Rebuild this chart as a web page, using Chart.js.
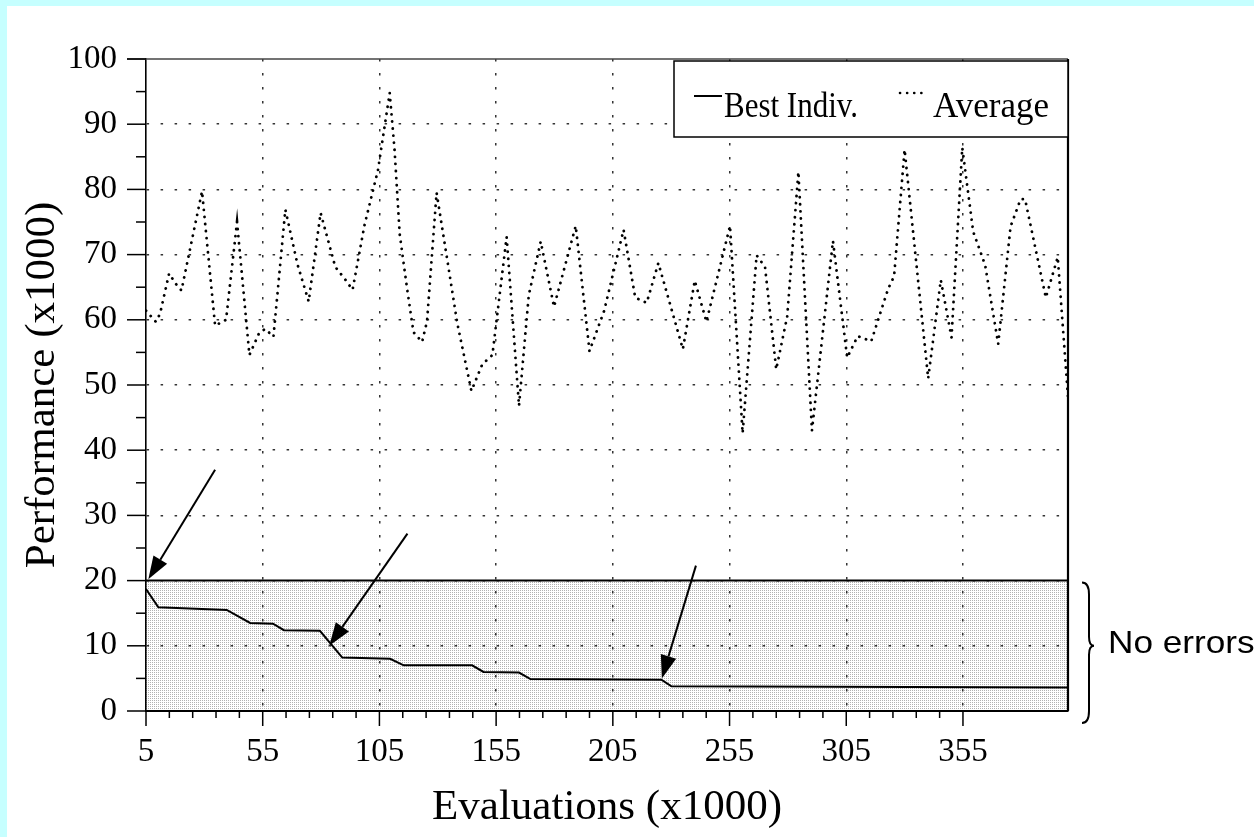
<!DOCTYPE html>
<html>
<head>
<meta charset="utf-8">
<title>Best individual and average performance</title>
<script src="https://cdn.jsdelivr.net/npm/chart.js@4.4.1/dist/chart.umd.min.js"></script>
<style>
  html, body { margin: 0; padding: 0; }
  body { width: 1254px; height: 837px; background: #c6ffff; position: relative; overflow: hidden; }
  #paper { position: absolute; left: 7px; top: 6px; right: 0; bottom: 0; background: #fff; }
  #grafico { position: absolute; left: 0; top: 0; }
</style>
</head>
<body>
<div id="paper"></div>
<canvas id="grafico" width="1254" height="837"></canvas>
<script>
// --- DATOS ---
const avgX = [5, 9.2, 11, 14.9, 17.8, 20.2, 29, 34.6, 39.3, 44, 49.3, 53.5, 56.1, 59.6, 64.7, 69.9, 74.7, 79.8,
  86.1, 89.9, 93.5, 98.6, 104.4, 109.4, 111.5, 113.7, 117, 119.6, 123.3, 125.4, 129.5, 138.4, 144.4, 149.1,
  153.4, 159.5, 164.8, 169, 174.1, 179.8, 189.1, 195, 201.3, 209.6, 214.6, 219.5, 224.5, 235, 240.1, 245.1,
  255.2, 260.6, 266.6, 270.2, 275, 279.7, 284.5, 290.3, 299.3, 305.4, 309.9, 315.7, 322.9, 325.5, 330,
  340.1, 345.5, 350.1, 354.7, 359.4, 364.5, 370.1, 375.4, 379.7, 381.6, 390.5, 395.6, 400];
const avgY = [61.4, 59.7, 60.9, 67.1, 65.5, 64.5, 79.7, 59.1, 60, 75, 54.6, 58, 58.6, 57.4, 76.9, 68.5, 62.8, 76.4,
  68.1, 66.4, 64.6, 74.5, 83, 94.8, 86, 73.1, 64.4, 58.1, 56.6, 59.8, 79.5, 59.4, 49.1, 53.2,
  54.6, 72.7, 46.8, 63.8, 72, 62, 74.4, 55.2, 61.4, 73.8, 63.4, 62.6, 68.7, 55.5, 66, 59.7,
  74.4, 42.6, 69.9, 68.1, 52.4, 60.5, 82.7, 43, 72.1, 54.2, 57.5, 56.7, 64.7, 66.7, 86.1,
  51, 66.1, 57.3, 86.4, 73.5, 68.4, 56.3, 74.3, 78.5, 78.5, 63.4, 69.6, 48.1];

const bestX = [5, 10.3, 39.6, 49.6, 59.4, 64.1, 79.5, 89.1, 109.6, 115.4, 144.7, 149.6, 164.8, 169.7, 225.8, 230.1, 400];
const bestY = [18.7, 15.9, 15.5, 13.5, 13.4, 12.4, 12.3, 8.2, 8.0, 7.0, 7.0, 6.0, 5.9, 4.9, 4.8, 3.8, 3.6];

const bandX = [5, 400];
const bandY = [20, 20];

const xLabels = [5, 55, 105, 155, 205, 255, 305, 355];
const yLabels = [0, 10, 20, 30, 40, 50, 60, 70, 80, 90, 100];

const seriesNames = ["Best Indiv.", "Average"];
const bandText = "No errors";
const xTitle = "Evaluations (x1000)";
const yTitle = "Performance (x1000)";

// flechas, en unidades de datos
const arrowTail = [[34.6, 37], [117, 27.2], [240.6, 22.3]];
const arrowTip = [[6, 20.2], [83.5, 10], [226, 5]];

const SERIF = '"Liberation Serif", "Times New Roman", serif';
const SANS = '"Liberation Sans", Arial, sans-serif';

// --- HELPERS ---
const toPts = (xs, ys) => xs.map((v, i) => ({ x: v, y: ys[i] }));

const xTickVals = [];
for (let v = 5; v <= 355; v += 10) xTickVals.push(v);
const yTickVals = [];
for (let v = 0; v <= 100; v += 5) yTickVals.push(v);

const canvas = document.getElementById("grafico");

function stipple() {
  const c = document.createElement("canvas");
  c.width = 2; c.height = 2;
  const g = c.getContext("2d");
  g.fillStyle = "rgba(0,0,0,0.3)";
  g.fillRect(0, 0, 1, 1);
  return canvas.getContext("2d").createPattern(c, "repeat");
}

function line(ctx, x1, y1, x2, y2) {
  ctx.beginPath();
  ctx.moveTo(x1, y1);
  ctx.lineTo(x2, y2);
  ctx.stroke();
}

function arrow(ctx, x1, y1, x2, y2) {
  const ang = Math.atan2(y2 - y1, x2 - x1);
  const L = 23, W = 8;
  const bx = x2 - L * Math.cos(ang), by = y2 - L * Math.sin(ang);
  line(ctx, x1, y1, bx, by);
  ctx.beginPath();
  ctx.moveTo(x2, y2);
  ctx.lineTo(bx + W * Math.sin(ang), by - W * Math.cos(ang));
  ctx.lineTo(bx - W * Math.sin(ang), by + W * Math.cos(ang));
  ctx.closePath();
  ctx.fill();
}

// --- DECORACION: marco, ticks, leyenda, flechas, llave ---
const decor = {
  id: "decor",
  afterDraw(chart) {
    const { ctx, chartArea: a, scales: { x, y } } = chart;
    ctx.save();
    ctx.strokeStyle = "#000";
    ctx.fillStyle = "#000";

    // marco superior y derecho
    ctx.lineWidth = 1.5;
    ctx.strokeStyle = "#444";
    line(ctx, a.left - 19, a.top, a.right, a.top);
    ctx.strokeStyle = "#000";
    ctx.lineWidth = 2.2;
    line(ctx, a.right, a.top, a.right, a.bottom);

    // ticks
    ctx.lineWidth = 1.5;
    yTickVals.forEach(v => {
      const py = y.getPixelForValue(v);
      const len = yLabels.includes(v) ? 19 : 10;
      line(ctx, a.left - len, py, a.left, py);
    });
    xTickVals.forEach(v => {
      const px = x.getPixelForValue(v);
      const len = xLabels.includes(v) ? 15 : 7;
      line(ctx, px, a.bottom, px, a.bottom + len);
    });

    // leyenda
    const lx = a.right - 394, ly = a.top + 2, lh = 76;
    ctx.fillStyle = "#fff";
    ctx.fillRect(lx, ly, a.right - lx, lh);
    ctx.lineWidth = 1.5;
    ctx.strokeRect(lx, ly, a.right - lx, lh);
    ctx.fillStyle = "#000";
    ctx.lineWidth = 2;
    line(ctx, lx + 20, ly + 35, lx + 48, ly + 35);
    ctx.font = "36px " + SERIF;
    ctx.textBaseline = "alphabetic";
    ctx.textAlign = "left";
    ctx.fillText(chart.data.datasets[0].label, lx + 50, ly + 56, 134);
    ctx.save();
    ctx.lineWidth = 2.6;
    ctx.lineCap = "round";
    ctx.setLineDash([0.1, 7]);
    line(ctx, lx + 226, ly + 32, lx + 252, ly + 32);
    ctx.restore();
    ctx.fillText(chart.data.datasets[1].label, lx + 259, ly + 56, 116);

    // flechas
    ctx.lineWidth = 2;
    arrowTail.forEach((t, i) => {
      const p = arrowTip[i];
      arrow(ctx, x.getPixelForValue(t[0]), y.getPixelForValue(t[1]),
        x.getPixelForValue(p[0]), y.getPixelForValue(p[1]));
    });

    // llave "No errors"
    const bx = a.right + 14;
    const top = y.getPixelForValue(20) + 2;
    const bottom = y.getPixelForValue(0) + 12;
    const mid = y.getPixelForValue(10);
    ctx.lineWidth = 2;
    ctx.beginPath();
    ctx.moveTo(bx, top);
    ctx.quadraticCurveTo(bx + 7, top, bx + 7, top + 12);
    ctx.lineTo(bx + 7, mid - 9);
    ctx.quadraticCurveTo(bx + 7, mid, bx + 12, mid);
    ctx.quadraticCurveTo(bx + 7, mid, bx + 7, mid + 9);
    ctx.lineTo(bx + 7, bottom - 12);
    ctx.quadraticCurveTo(bx + 7, bottom, bx, bottom);
    ctx.stroke();

    ctx.font = "32px " + SANS;
    ctx.textBaseline = "middle";
    ctx.translate(bx + 26, mid - 2);
    ctx.scale(1.1, 1);
    ctx.fillText(chart.data.datasets[2].label, 0, 0);
    ctx.restore();
  }
};

// --- GRAFICO ---
Chart.defaults.font.family = SERIF;
Chart.defaults.color = "#000";

new Chart(canvas, {
  type: "line",
  data: {
    datasets: [
      { label: seriesNames[0], data: toPts(bestX, bestY), borderColor: "#000", borderWidth: 2,
        pointRadius: 0, tension: 0, fill: false, order: 1 },
      { label: seriesNames[1], data: toPts(avgX, avgY), borderColor: "#000", borderWidth: 2.8,
        borderDash: [0.1, 7], borderCapStyle: "round", pointRadius: 0, tension: 0, fill: false, order: 2 },
      { label: bandText, data: toPts(bandX, bandY), borderColor: "#000", borderWidth: 2,
        backgroundColor: stipple(), fill: "origin", pointRadius: 0, order: 3 }
    ]
  },
  options: {
    responsive: false,
    animation: false,
    events: [],
    layout: { padding: { left: 0, top: 59, right: 186, bottom: 0 } },
    plugins: { legend: { display: false }, tooltip: { enabled: false } },
    scales: {
      x: {
        type: "linear", min: 5, max: 400,
        afterBuildTicks: s => { s.ticks = xTickVals.map(v => ({ value: v })); },
        afterFit: s => { s.height = 126; },
        ticks: { autoSkip: false, maxRotation: 0, padding: 22, font: { size: 33 },
          callback: v => xLabels.includes(v) ? String(v) : "" },
        grid: { drawTicks: false, lineWidth: 1.5,
          color: c => (c.tick && xLabels.includes(c.tick.value) && c.tick.value !== 5) ? "#333" : "rgba(0,0,0,0)" },
        border: { display: true, color: "#000", width: 2, dash: [2.5, 11.5] },
        title: { display: true, text: xTitle, font: { size: 43 }, padding: { top: 0, bottom: 3 } }
      },
      y: {
        min: 0, max: 100,
        afterBuildTicks: s => { s.ticks = yTickVals.map(v => ({ value: v })); },
        afterFit: s => { s.width = 146; },
        ticks: { autoSkip: false, padding: 29, font: { size: 33 },
          callback: v => yLabels.includes(v) ? String(v) : "" },
        grid: { drawTicks: false, lineWidth: 1.5,
          color: c => (c.tick && yLabels.includes(c.tick.value) && c.tick.value > 0 && c.tick.value < 100) ? "#333" : "rgba(0,0,0,0)" },
        border: { display: true, color: "#000", width: 1.6, dash: [2.5, 11.5] },
        title: { display: true, text: yTitle, font: { size: 43 }, padding: { top: 17, bottom: 0 } }
      }
    }
  },
  plugins: [decor]
});
</script>
</body>
</html>
